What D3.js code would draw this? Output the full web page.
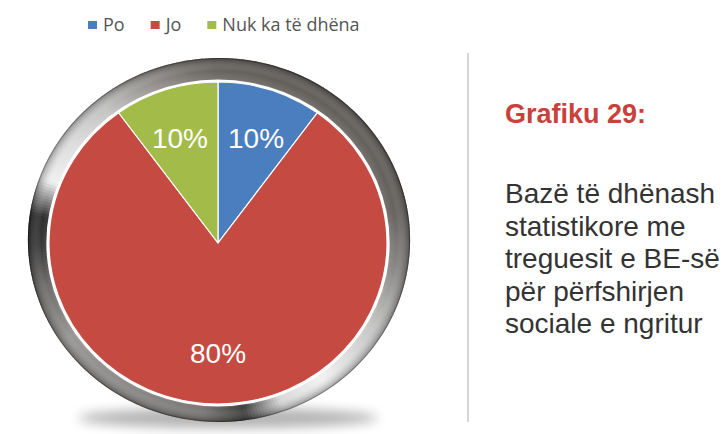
<!DOCTYPE html>
<html><head><meta charset="utf-8">
<script src="https://cdn.jsdelivr.net/npm/d3@7"></script>
<style>html,body{margin:0;padding:0;background:#fff;}svg{display:block;}</style>
</head><body>
<svg id="c" width="728" height="434"></svg>
<script>
// ---- data ----
const categories = ["Po", "Jo", "Nuk ka të dhëna"];
const values = [10, 80, 10];
const colors = ["#4a7ebf", "#c54b42", "#a3bb48"];
const titleText = "Grafiku 29:";
const bodyLines = ["Bazë të dhënash", "statistikore me", "treguesit e BE-së", "për përfshirjen", "sociale e ngritur"];
// bezel shading stops (angle in degrees clockwise from top, colour)
const bezelAngles = [0, 20, 80, 100, 120, 145, 160, 172, 185, 210, 235, 255, 268, 278, 290, 305, 320, 335, 350, 360];
const bezelColors = ["#67635f","#625e5a","#66625e","#8a8886","#c4c4c4","#f2f2f2","#d8d8d8","#3e3e3e","#7a7876","#8c8a88","#9a9896","#6e6c6a","#3a3a3a","#2e2e2e","#f0f0f0","#dcdcdc","#c4c4c4","#9a9794","#77736f","#67635f"];

const svg = d3.select("#c");
const defs = svg.append("defs");
const blur = defs.append("filter").attr("id","blur").attr("x","-20%").attr("y","-200%").attr("width","140%").attr("height","500%");
blur.append("feGaussianBlur").attr("stdDeviation", 6);

const rg = defs.append("radialGradient").attr("id","bevel").attr("gradientUnits","userSpaceOnUse")
  .attr("cx",0).attr("cy",0).attr("r",182);
rg.append("stop").attr("offset", 150/182).attr("stop-color","#fff").attr("stop-opacity",0.25);
rg.append("stop").attr("offset", 0.93).attr("stop-color","#fff").attr("stop-opacity",0);
rg.append("stop").attr("offset", 1).attr("stop-color","#000").attr("stop-opacity",0.35);

// shadow
svg.append("ellipse").attr("cx",228).attr("cy",418).attr("rx",150).attr("ry",10)
  .attr("fill","#000").attr("opacity",0.3).attr("filter","url(#blur)");

// bezel ring
const ring = svg.append("g").attr("transform","translate(219,240) scale(1.05,1)");
const colAt = d3.scaleLinear().domain(bezelAngles).range(bezelColors).interpolate(d3.interpolateRgb);
const segArc = d3.arc().innerRadius(150).outerRadius(182);
const segs = d3.range(0, 360, 1);
ring.selectAll("path.seg").data(segs).join("path")
  .attr("d", a => segArc({startAngle: a*Math.PI/180, endAngle: (a+1.3)*Math.PI/180}))
  .attr("fill", a => colAt(a+0.5));
ring.append("circle").attr("r",182).attr("fill","url(#bevel)");
ring.append("circle").attr("r",181.5).attr("fill","none").attr("stroke","rgba(0,0,0,0.25)").attr("stroke-width",1);

// pie
const R = 161;
const pg = svg.append("g").attr("transform","translate(218,243) scale(1.05,1)");
pg.append("circle").attr("r", R + 2.5).attr("fill", "#fff");
const pie = d3.pie().sort(null).value(d => d.v);
const data = categories.map((c,i) => ({c, v: values[i], col: colors[i]}));
const arcs = pie(data);
const arc = d3.arc().innerRadius(0).outerRadius(R);
pg.selectAll("path.slice").data(arcs).join("path")
  .attr("d", arc).attr("fill", d => d.data.col)
  .attr("stroke", "#fff").attr("stroke-width", 1.2).attr("stroke-linejoin","round");
const labelArc = d3.arc().innerRadius(110).outerRadius(110);
const lab = svg.append("g").attr("transform","translate(218,243)");
lab.selectAll("text").data(arcs).join("text")
  .attr("x", d => labelArc.centroid(d)[0]*1.12)
  .attr("y", d => labelArc.centroid(d)[1])
  .attr("text-anchor","middle").attr("dy","0.35em")
  .attr("font-family","'Liberation Sans', Arial, sans-serif").attr("font-size",28)
  .attr("fill","#fff")
  .text(d => d.data.v + "%");

// legend
const lg = svg.append("g").attr("font-family","'Open Sans', sans-serif").attr("font-size",18);
let lx = 88;
data.forEach(d => {
  lg.append("rect").attr("x", lx).attr("y", 21).attr("width", 9).attr("height", 8).attr("fill", d.col);
  const t = lg.append("text").attr("x", lx + 15).attr("y", 31).attr("fill","#555").text(d.c);
  lx += 15 + t.node().getComputedTextLength() + 26;
});

// divider
svg.append("line").attr("x1",468).attr("x2",468).attr("y1",53).attr("y2",422)
  .attr("stroke","#c8c8c8").attr("stroke-width",1.5);

// side text
svg.append("text").attr("x",505).attr("y",123)
  .attr("font-family","'Liberation Sans', Arial, sans-serif").attr("font-weight","bold").attr("font-size",27)
  .attr("fill","#c8413a").text(titleText);
svg.append("g").selectAll("text").data(bodyLines).join("text")
  .attr("x",505).attr("y",(d,i)=>203 + i*32.5)
  .attr("font-family","'Liberation Sans', Arial, sans-serif").attr("font-size",28)
  .attr("fill","#333").text(d=>d);
</script>
</body></html>
